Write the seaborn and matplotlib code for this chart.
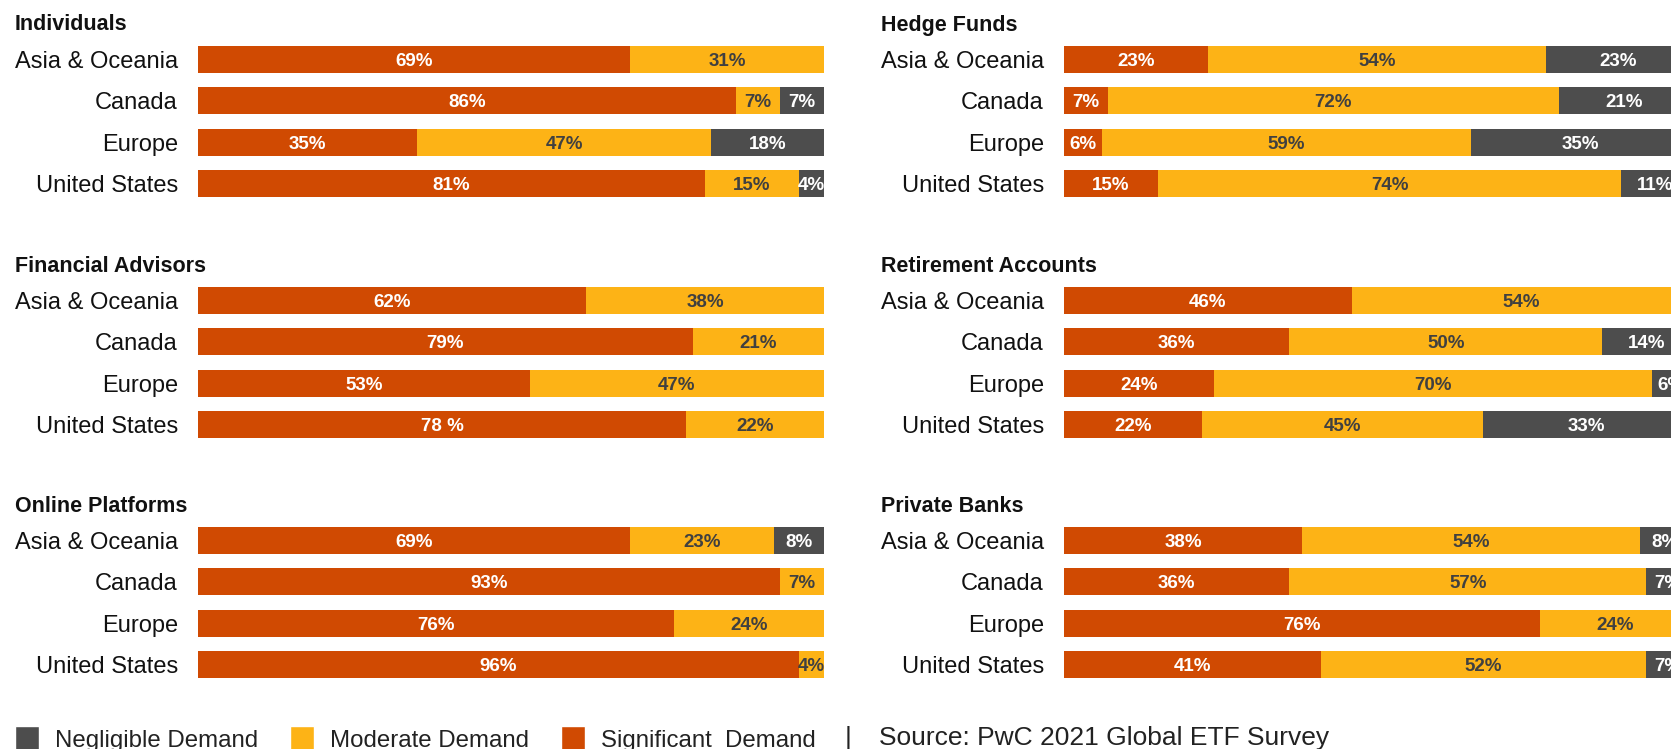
import pandas as pd
import seaborn as sns
import matplotlib.pyplot as plt
from matplotlib.patches import Patch

# data
regions = ["Asia & Oceania", "Canada", "Europe", "United States"]

panels = ["Individuals", "Financial Advisors", "Online Platforms",
          "Hedge Funds", "Retirement Accounts", "Private Banks"]

significant = {
    "Individuals":         [69, 86, 35, 81],
    "Financial Advisors":  [62, 79, 53, 78],
    "Online Platforms":    [69, 93, 76, 96],
    "Hedge Funds":         [23, 7, 6, 15],
    "Retirement Accounts": [46, 36, 24, 22],
    "Private Banks":       [38, 36, 76, 41],
}
moderate = {
    "Individuals":         [31, 7, 47, 15],
    "Financial Advisors":  [38, 21, 47, 22],
    "Online Platforms":    [23, 7, 24, 4],
    "Hedge Funds":         [54, 72, 59, 74],
    "Retirement Accounts": [54, 50, 70, 45],
    "Private Banks":       [54, 57, 24, 52],
}
negligible = {
    "Individuals":         [0, 7, 18, 4],
    "Financial Advisors":  [0, 0, 0, 0],
    "Online Platforms":    [8, 0, 0, 0],
    "Hedge Funds":         [23, 21, 35, 11],
    "Retirement Accounts": [0, 14, 6, 33],
    "Private Banks":       [8, 7, 0, 7],
}
# label text that differs from the plain "<n>%"
label_fix = {("Financial Advisors", "United States", "sig"): "78 %"}

RED = "#D04A02"
YELLOW = "#FDB316"
GRAY = "#4D4D4D"

W, H = 1671, 749


def px_axes(fig, x0, y_top, w, h):
    return fig.add_axes([x0 / W, 1 - (y_top + h) / H, w / W, h / H])


def draw_panel(ax, name):
    df = pd.DataFrame({
        "region": regions,
        "sig": significant[name],
        "mod": moderate[name],
        "neg": negligible[name],
    })
    df["sig_mod"] = df["sig"] + df["mod"]
    df["total"] = df["sig_mod"] + df["neg"]

    # stacked bars: draw cumulative totals back to front
    for col, c in [("total", GRAY), ("sig_mod", YELLOW), ("sig", RED)]:
        sns.barplot(data=df, x=col, y="region", color=c, saturation=1,
                    width=0.65, orient="h", ax=ax, linewidth=0)

    for i, row in df.iterrows():
        segs = [("sig", 0, row["sig"], "white"),
                ("mod", row["sig"], row["mod"], "#404040"),
                ("neg", row["sig_mod"], row["neg"], "white")]
        for key, start, val, tc in segs:
            if val <= 0:
                continue
            txt = label_fix.get((name, row["region"], key), f"{val}%")
            ax.text(start + val / 2, i + 0.05, txt, ha="center", va="center",
                    color=tc, fontsize=13.5, fontweight="bold")

    ax.set_xlim(0, 100)
    ax.set_xlabel("")
    ax.set_ylabel("")
    ax.set_xticks([])
    ax.tick_params(axis="y", length=0, pad=14.5, labelsize=17,
                   labelcolor="#111111")
    for s in ax.spines.values():
        s.set_visible(False)
    ax.grid(False)


sns.set_theme(style="white")
plt.rcParams["font.family"] = ["Liberation Sans", "DejaVu Sans"]

fig = plt.figure(figsize=(W / 100, H / 100), dpi=100)

col_x = [198, 1064]
label_x = [15, 881]
row_top = [39, 280, 520]
title_y = [25, 266, 506]
bar_w = 626
axes_h = 165

for k, name in enumerate(panels):
    c, r = divmod(k, 3)
    ax = px_axes(fig, col_x[c], row_top[r], bar_w, axes_h)
    draw_panel(ax, name)
    fig.text(label_x[c] / W, 1 - title_y[r] / H, name, ha="left",
             va="center", fontsize=15.5, fontweight="bold", color="#111111")

handles = [Patch(facecolor=GRAY, label="Negligible Demand"),
           Patch(facecolor=YELLOW, label="Moderate Demand"),
           Patch(facecolor=RED, label="Significant  Demand")]
fig.legend(handles=handles, loc="center left",
           bbox_to_anchor=(15 / W, 1 - 739 / H), ncol=3, frameon=False,
           fontsize=17.3, handlelength=1.0, handleheight=1.2,
           handletextpad=0.65, columnspacing=1.35, borderpad=0,
           borderaxespad=0, labelcolor="#222222")
fig.text(848 / W, 1 - 738 / H, "|", ha="center", va="center",
         fontsize=19, color="#222222")
fig.text(879 / W, 1 - 738 / H, "Source: PwC 2021 Global ETF Survey",
         ha="left", va="center", fontsize=19, color="#222222")

plt.savefig("out.png", dpi=100)
